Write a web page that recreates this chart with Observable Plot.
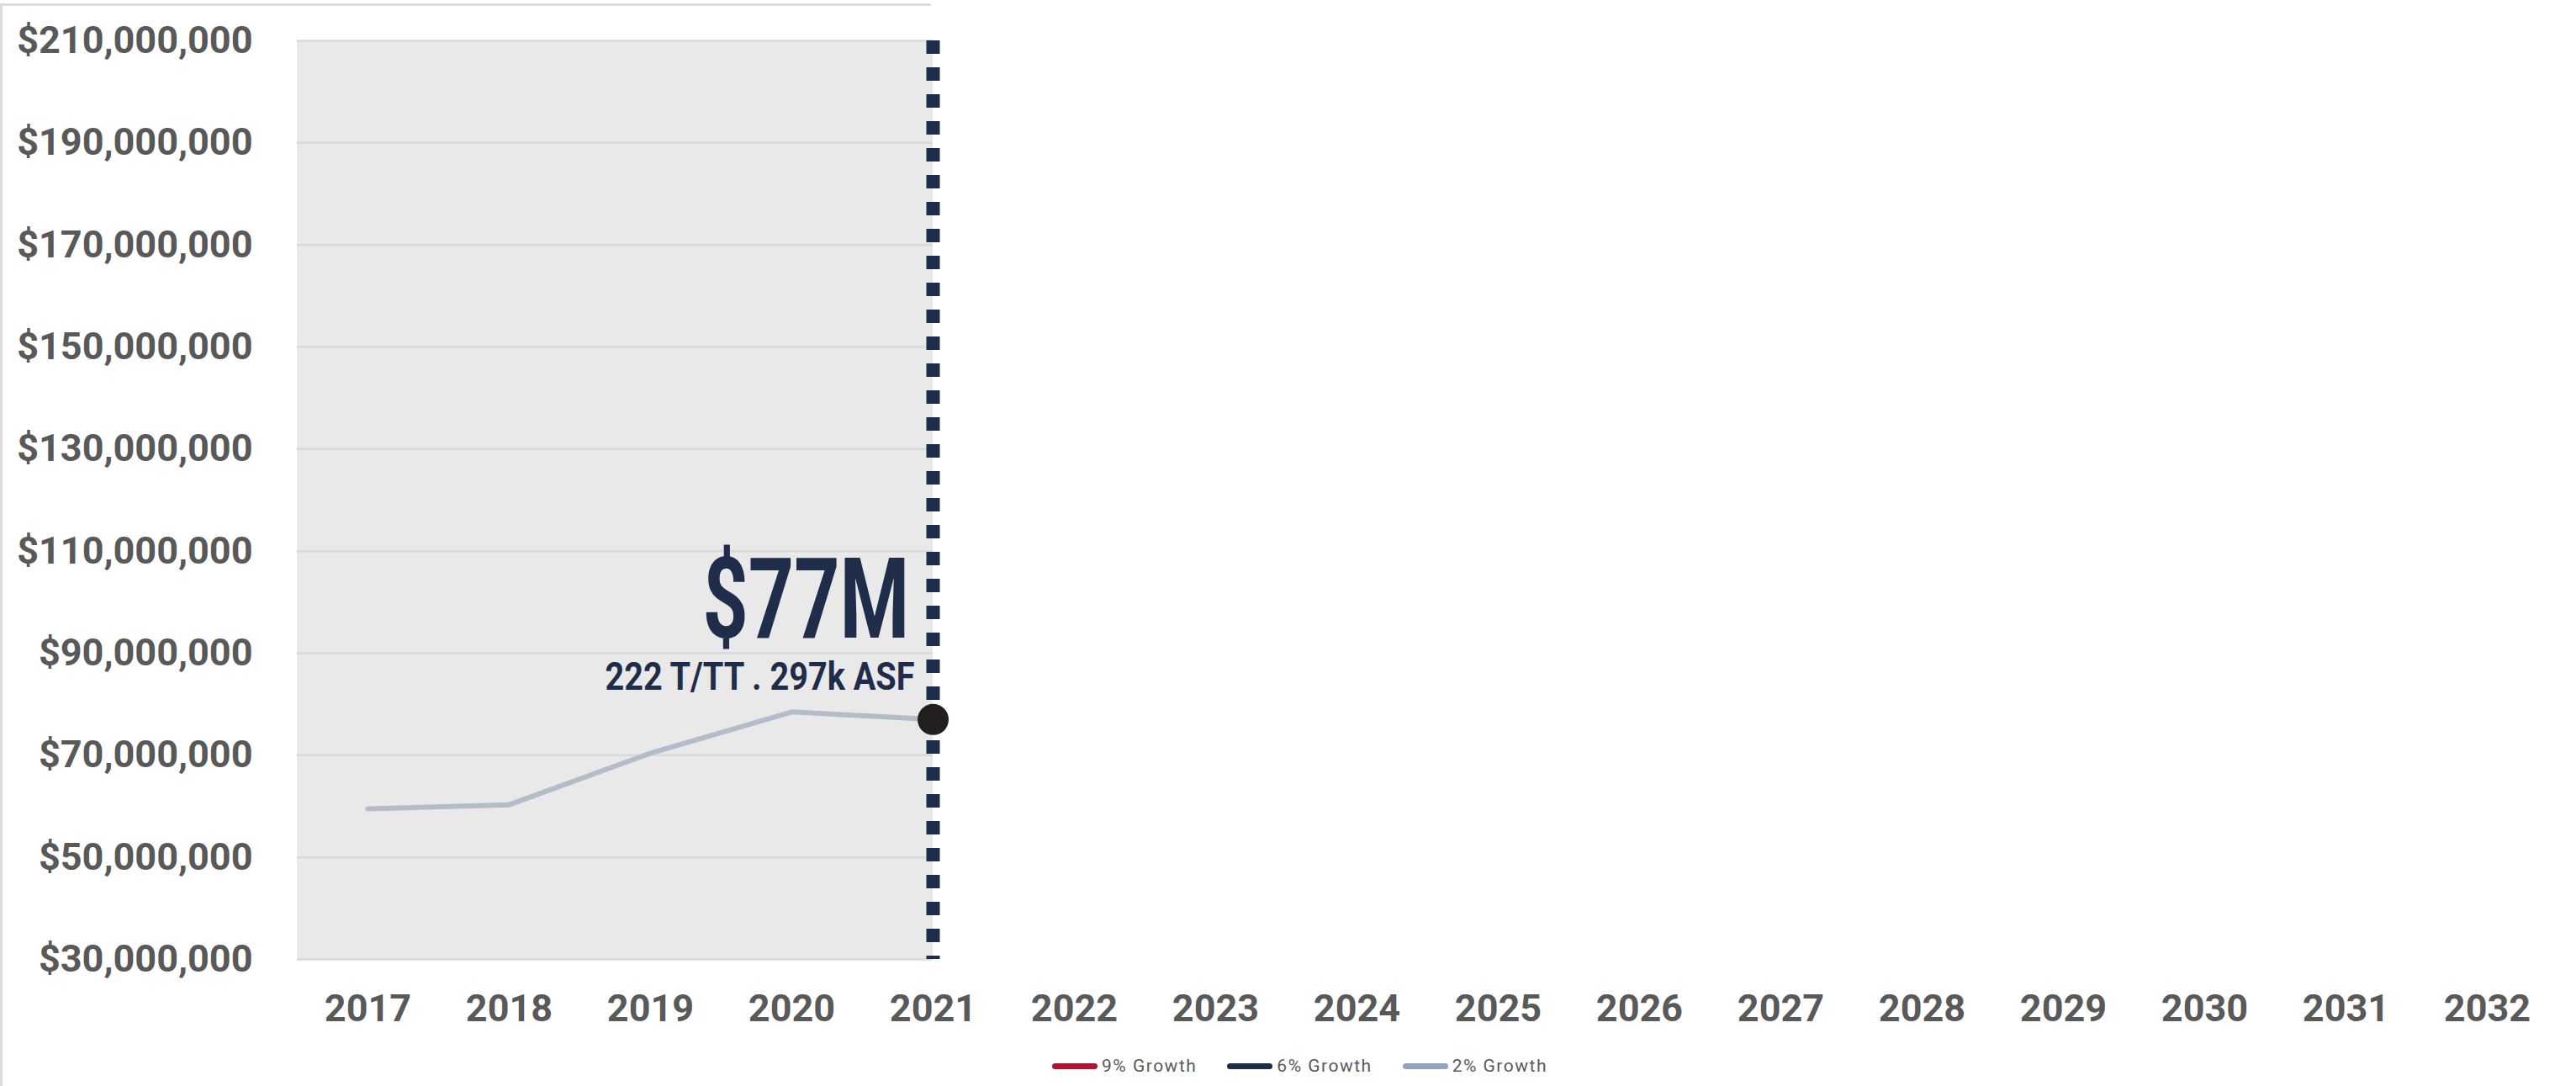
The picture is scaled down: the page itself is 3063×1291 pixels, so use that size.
<!DOCTYPE html>
<html>
<head>
<meta charset="utf-8">
<script src="https://cdn.jsdelivr.net/npm/d3@7"></script>
<script src="https://cdn.jsdelivr.net/npm/@observablehq/plot@0.6"></script>
<style>
  html, body { margin: 0; padding: 0; background: #ffffff; }
  #wrap { position: relative; width: 3063px; height: 1291px; overflow: hidden; background: #fff; }
  #frameTop { position: absolute; left: 0; top: 4px; width: 1107px; height: 3px; background: #dcdcdc; }
  #frameLeft { position: absolute; left: 0; top: 4px; width: 3px; height: 1287px; background: #dcdcdc; }
  #chart { position: absolute; left: 0; top: 0; }
  #legend { position: absolute; left: 14px; top: 1240px; width: 3063px; height: 54px;
            display: flex; justify-content: center; align-items: center;
            font-family: Roboto, sans-serif; font-size: 21px; color: #595959; letter-spacing: 1.5px; }
  .item { display: flex; align-items: center; margin: 0 18px; }
  .sw { display: inline-block; width: 54px; height: 7px; border-radius: 4px; margin-right: 5px; }
</style>
</head>
<body>
<div id="wrap">
  <div id="frameTop"></div>
  <div id="frameLeft"></div>
  <div id="chart"></div>
  <div id="legend"></div>
</div>
<script>
// ---- data ----
const years = [2017, 2018, 2019, 2020, 2021, 2022, 2023, 2024, 2025, 2026, 2027, 2028, 2029, 2030, 2031, 2032];
const histYears = [2017, 2018, 2019, 2020, 2021];
const histValues = [59.5e6, 60.3e6, 70.4e6, 78.5e6, 77.0e6];
const yTicks = [30e6, 50e6, 70e6, 90e6, 110e6, 130e6, 150e6, 170e6, 190e6, 210e6];
const currentYear = 2021;
const currentValue = 77e6;
const headline = "$77M";
const subline = "222 T/TT . 297k ASF";
const seriesNames = ["9% Growth", "6% Growth", "2% Growth"];
const seriesColors = ["#ae1531", "#1f2d4b", "#92a3c0"];

const histData = histYears.map((x, i) => ({x, y: histValues[i]}));
const yMin = yTicks[0], yMax = yTicks[yTicks.length - 1];
const xStart = years[0] - 0.5, xEnd = years[years.length - 1] + 0.5;

const axisFont = "Roboto, 'Liberation Sans', sans-serif";

const chart = Plot.plot({
  width: 3063,
  height: 1240,
  marginLeft: 353,
  marginRight: 22,
  marginTop: 48,
  marginBottom: 100,
  style: {fontFamily: axisFont, fontSize: "45px", fontWeight: "700", color: "#595959", background: "transparent", overflow: "visible"},
  x: {type: "linear", domain: [xStart, xEnd], ticks: years, tickFormat: d => String(d), tickSize: 0, tickPadding: 42, label: null},
  y: {domain: [yMin, yMax], ticks: yTicks, tickFormat: d => "$" + d3.format(",")(d), tickSize: 0, tickPadding: 53, label: null},
  marks: [
    Plot.rect([0], {x1: xStart, x2: currentYear, y1: yMin, y2: yMax, fill: "#e9e9e9"}),
    Plot.ruleY(yTicks, {x1: xStart, x2: currentYear, stroke: "#d9d9d9", strokeWidth: 2.5}),
    Plot.ruleX([currentYear], {y1: yMax, y2: yMin, stroke: "#1f2d4b", strokeWidth: 16, strokeDasharray: "16,16"}),
    Plot.line(histData, {x: "x", y: "y", stroke: "#b5bcc9", strokeWidth: 6, strokeLinecap: "round", strokeLinejoin: "round"}),
    Plot.dot([{x: currentYear, y: currentValue}], {x: "x", y: "y", r: 18.5, fill: "#231f20", stroke: "none"}),
    Plot.text([{x: currentYear, y: currentValue, t: headline}], {x: "x", y: "y", text: "t", dx: -28, dy: -97,
      textAnchor: "end", lineAnchor: "bottom", fontSize: 133, fontWeight: 700, fontFamily: axisFont, fill: "#1f2d4b", className: "big"}),
    Plot.text([{x: currentYear, y: currentValue, t: subline}], {x: "x", y: "y", text: "t", dx: -22, dy: -35,
      textAnchor: "end", lineAnchor: "bottom", fontSize: 46, fontWeight: 700, fontFamily: axisFont, fill: "#1f2d4b", className: "sub"})
  ]
});
document.getElementById("chart").appendChild(chart);

// condensed look of the annotation lettering
d3.select(chart).selectAll(".big text").attr("textLength", 246).attr("lengthAdjust", "spacingAndGlyphs");
d3.select(chart).selectAll(".sub text").attr("textLength", 368).attr("lengthAdjust", "spacingAndGlyphs");

const legend = document.getElementById("legend");
seriesNames.forEach((name, i) => {
  const item = document.createElement("div");
  item.className = "item";
  const sw = document.createElement("span");
  sw.className = "sw";
  sw.style.background = seriesColors[i];
  const lab = document.createElement("span");
  lab.textContent = name;
  item.appendChild(sw);
  item.appendChild(lab);
  legend.appendChild(item);
});
</script>
</body>
</html>
